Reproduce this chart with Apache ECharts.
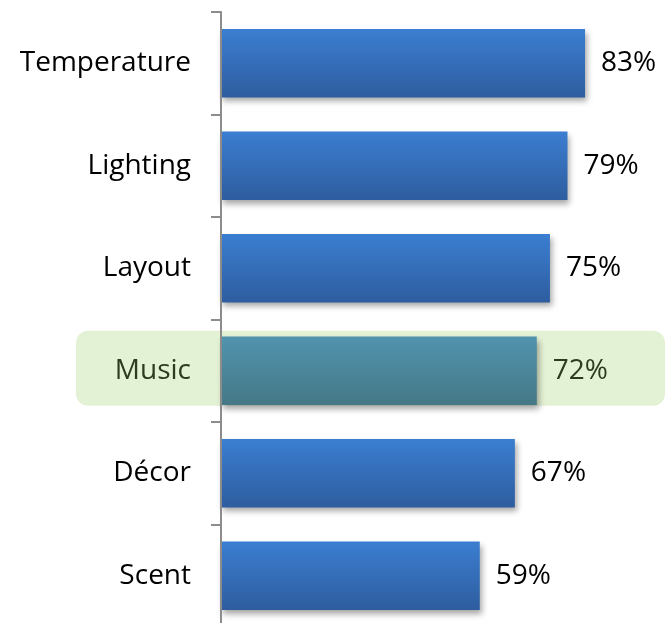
<!DOCTYPE html>
<html>
<head>
<meta charset="utf-8">
<script src="https://cdn.jsdelivr.net/npm/echarts@6/dist/echarts.min.js"></script>
<style>html,body{margin:0;padding:0;background:#fff}#c{width:668px;height:623px}</style>
</head>
<body>
<div id="c"></div>
<script>
const categories = ['Temperature', 'Lighting', 'Layout', 'Music', 'Décor', 'Scent'];
const values = [83, 79, 75, 72, 67, 59];
const highlighted = 'Music';

const FONT = '"Open Sans", sans-serif';
const blueGrad = new echarts.graphic.LinearGradient(0, 0, 0, 1, [
  {offset: 0, color: '#3b7ed1'}, {offset: 1, color: '#2e5d9f'}]);
const tealGrad = new echarts.graphic.LinearGradient(0, 0, 0, 1, [
  {offset: 0, color: '#5193ae'}, {offset: 1, color: '#457886'}]);

const chart = echarts.init(document.getElementById('c'));
const option = {
  animation: false,
  grid: {left: 221, right: 8.4, top: 12, bottom: -4, containLabel: false, outerBoundsMode: 'none'},
  xAxis: {type: 'value', min: 0, max: 100, show: false},
  yAxis: {
    type: 'category', data: categories, inverse: true,
    axisLine: {show: true, lineStyle: {color: '#8c8c8c', width: 2}},
    axisTick: {show: true, length: 10, lineStyle: {color: '#8c8c8c', width: 2}},
    axisLabel: {
      margin: 30, fontFamily: FONT, fontSize: 28, padding: [4, 0, 0, 0],
      color: function (v) { return v === highlighted ? '#2d3b1f' : '#000'; }
    },
    z: 3
  },
  series: [{
    type: 'bar', barCategoryGap: '33.2%', z: 2,
    data: categories.map((c, i) => ({
      value: values[i],
      itemStyle: {color: c === highlighted ? tealGrad : blueGrad},
      label: {color: c === highlighted ? '#2d3b1f' : '#000'}
    })),
    itemStyle: {shadowColor: 'rgba(0,0,0,0.35)', shadowBlur: 6, shadowOffsetX: 2, shadowOffsetY: 4},
    label: {show: true, position: 'right', distance: 16, fontFamily: FONT, fontSize: 28,
      padding: [5, 0, 0, 0], formatter: p => p.value + '%'}
  }]
};
chart.setOption(option);

// highlight band behind the highlighted category
const yc = chart.convertToPixel({yAxisIndex: 0}, highlighted);
chart.setOption({
  graphic: [{
    type: 'rect', z: -10, silent: true,
    shape: {x: 76, y: yc - 40, width: 589, height: 75, r: 12},
    style: {fill: '#e3f1d4'}
  }]
});
</script>
</body>
</html>
